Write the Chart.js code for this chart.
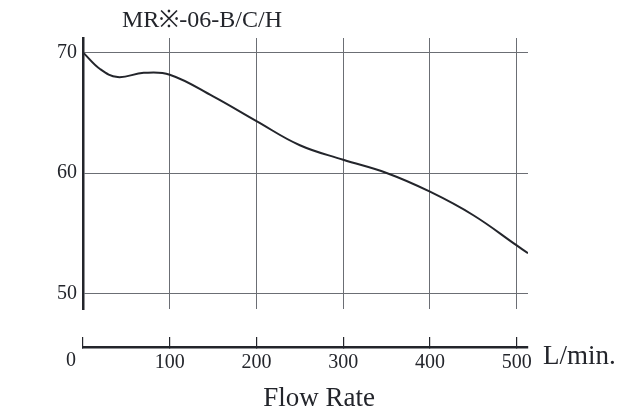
<!DOCTYPE html>
<html>
<head>
<meta charset="utf-8">
<script src="https://cdn.jsdelivr.net/npm/chart.js@4/dist/chart.umd.min.js"></script>
<style>
  html, body { margin: 0; padding: 0; background: #fff; }
  #wrap { width: 627px; height: 414px; }
</style>
</head>
<body>
<div id="wrap"><canvas id="flowChart" width="627" height="414"></canvas></div>
<script>
// curve
var flowRate = [0, 20, 40, 70, 100, 150, 200, 250, 300, 350, 400, 450, 500, 513];
var pressure = [70.0, 68.6, 67.95, 68.3, 68.15, 66.35, 64.3, 62.3, 61.1, 60.0, 58.45, 56.5, 54.0, 53.35];
var xTicks = [0, 100, 200, 300, 400, 500];
var yTicks = [50, 60, 70];
var chartTitle = 'MR\u203B-06-B/C/H';
var xTitle = 'Flow Rate';
var xUnit = 'L/min.';

var serif = "'Liberation Serif', 'Times New Roman', serif";
var ink = '#23252b';
var gridGray = '#6b6e74';

var points = [];
for (let i = 0; i < flowRate.length; i++) {
    points.push({x: flowRate[i], y: pressure[i]});
}

// texts that sit off the usual places
var extraText = {
    id: 'extraText',
    afterDraw: function (chart) {
        let ctx = chart.ctx;
        let xs = chart.scales.x2;
        ctx.save();
        ctx.fillStyle = ink;
        ctx.textBaseline = 'middle';
        ctx.font = '24px ' + serif;
        ctx.textAlign = 'left';
        ctx.fillText(chartTitle, 122, 21);
        ctx.font = '20px ' + serif;
        ctx.textAlign = 'center';
        ctx.fillText('0', xs.getPixelForValue(0) - 12, 361);
        ctx.font = '27px ' + serif;
        ctx.textAlign = 'left';
        ctx.fillText(xUnit, xs.right + 15, 357);
        ctx.textAlign = 'center';
        ctx.fillText(xTitle, 319, 399);
        ctx.restore();
    }
};

new Chart(document.getElementById('flowChart'), {
    type: 'line',
    data: {
        datasets: [{
            data: points,
            borderColor: ink,
            borderWidth: 2,
            pointRadius: 0,
            fill: false,
            tension: 0.4,
            xAxisID: 'x',
            yAxisID: 'y'
        }]
    },
    options: {
        responsive: false,
        animation: false,
        events: [],
        layout: {padding: {top: 38, right: 99, bottom: 0, left: 0}},
        plugins: {legend: {display: false}, tooltip: {enabled: false}, title: {display: false}},
        scales: {
            y: {
                type: 'linear',
                min: 48.73,
                max: 71.19,
                afterFit: function (scale) { scale.width = 83; },
                afterBuildTicks: function (scale) {
                    scale.ticks = yTicks.map(function (v) { return {value: v}; });
                },
                border: {display: true, color: ink, width: 2.5},
                grid: {color: gridGray, lineWidth: 1, drawTicks: false},
                ticks: {color: ink, padding: 6, font: {family: serif, size: 20}}
            },
            x: {
                type: 'linear',
                position: 'bottom',
                min: 0,
                max: 513,
                afterFit: function (scale) { scale.height = 38; },
                afterBuildTicks: function (scale) {
                    scale.ticks = xTicks.map(function (v) { return {value: v}; });
                },
                border: {display: false},
                grid: {color: gridGray, lineWidth: 1, drawTicks: false},
                ticks: {display: false}
            },
            x2: {
                type: 'linear',
                position: 'bottom',
                min: 0,
                max: 513,
                afterFit: function (scale) { scale.height = 67; },
                afterBuildTicks: function (scale) {
                    scale.ticks = xTicks.map(function (v) { return {value: v}; });
                },
                border: {display: true, color: ink, width: 2.5},
                grid: {drawOnChartArea: false, color: ink, lineWidth: 1.2, tickLength: -10},
                ticks: {
                    color: ink,
                    padding: 14,
                    maxRotation: 0,
                    font: {family: serif, size: 20},
                    callback: function (v) { return v === 0 ? '' : String(v); }
                }
            }
        }
    },
    plugins: [extraText]
});
</script>
</body>
</html>
